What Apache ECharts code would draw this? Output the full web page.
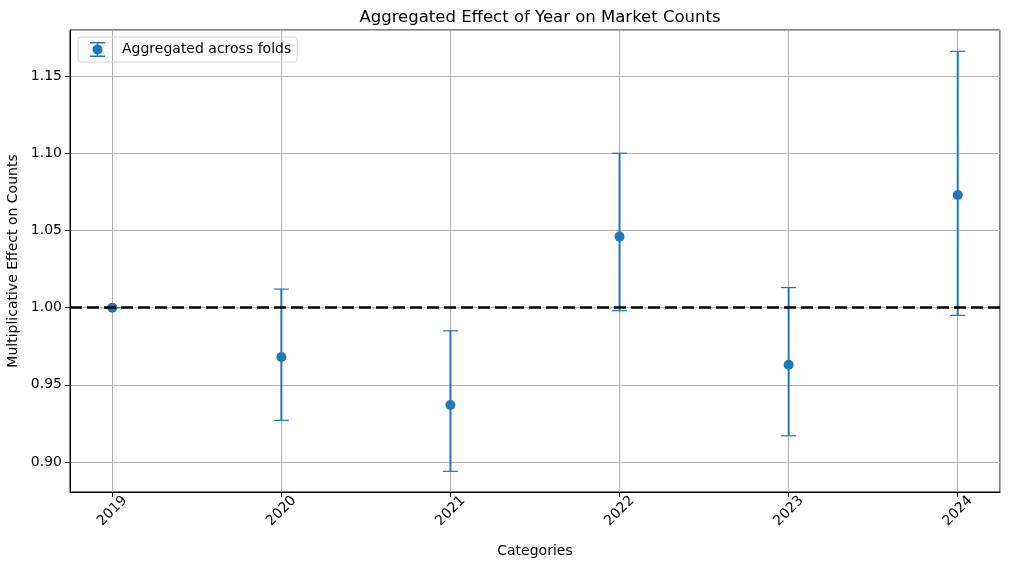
<!DOCTYPE html>
<html>
<head>
    <meta charset="utf-8">
    <title>Aggregated Effect of Year on Market Counts</title>
    <script src="https://cdn.jsdelivr.net/npm/echarts@6/dist/echarts.min.js"></script>
    <style>
        html, body { margin: 0; padding: 0; background: #fff; }
        #chart1 { width: 1010px; height: 566px; }
    </style>
</head>
<body>
<div id="chart1"></div>
<script type="text/javascript">
    // 数据: 年份及聚合效应 (点估计 + 区间)
    var categories = ['2019', '2020', '2021', '2022', '2023', '2024'];
    var effects = [1.000, 0.968, 0.937, 1.046, 0.963, 1.073];
    var lowers = [1.000, 0.927, 0.894, 0.998, 0.917, 0.995];
    var uppers = [1.000, 1.012, 0.985, 1.100, 1.013, 1.166];
    var refLine = 1.0;

    var blue = '#1f77b4';
    var font = 'DejaVu Sans';

    var pointData = effects.map(function (v, i) { return [i, v]; });
    var barData = effects.map(function (v, i) { return [i, lowers[i], uppers[i]]; });

    var myChart1 = echarts.init(document.getElementById('chart1'));

    myChart1.setOption({
        animation: false,
        backgroundColor: '#fff',
        title: {
            text: 'Aggregated Effect of Year on Market Counts',
            left: 535,
            textAlign: 'center',
            top: 4,
            textStyle: { fontFamily: font, fontSize: 16.5, fontWeight: 'normal', color: '#000' }
        },
        legend: {
            left: 78,
            top: 37,
            data: [{ name: 'Aggregated across folds', icon: 'path://M0,0h15v1.5h-15z M6.75,0h1.5v15h-1.5z M0,13.5h15v1.5h-15z M7.5,2.5a5,5 0 1,1 -0.01,0z' }],
            itemWidth: 15,
            itemHeight: 15,
            padding: [5, 6, 5, 12],
            borderColor: '#d5d5d5',
            borderWidth: 1,
            borderRadius: 3,
            textStyle: { fontFamily: font, fontSize: 14, color: '#000', padding: [0, 0, 0, 12] }
        },
        grid: {
            left: 70, right: 10, top: 30, bottom: 74,
            containLabel: false,
            outerBoundsMode: 'none',
            show: true, borderColor: '#000', borderWidth: 1
        },
        xAxis: {
            type: 'value',
            min: -0.25,
            max: 5.25,
            splitNumber: 5,
            name: 'Categories',
            nameLocation: 'middle',
            nameGap: 52,
            nameTextStyle: { fontFamily: font, fontSize: 14, color: '#000' },
            axisLine: { onZero: false, lineStyle: { color: '#000', width: 1 } },
            axisTick: { length: 5, lineStyle: { color: '#000' } },
            axisLabel: {
                showMinLabel: false,
                showMaxLabel: false,
                rotate: 45,
                align: 'center',
                verticalAlign: 'middle',
                margin: 19,
                fontFamily: font, fontSize: 14, color: '#000',
                formatter: function (v) {
                    return Number.isInteger(v) && categories[v] ? categories[v] : '';
                }
            },
            splitLine: { show: true, lineStyle: { color: '#b0b0b0', width: 1 } }
        },
        yAxis: {
            type: 'value',
            min: 0.8806,
            max: 1.1798,
            splitNumber: 6,
            name: 'Multiplicative Effect on Counts',
            nameLocation: 'middle',
            nameGap: 47,
            nameTextStyle: { fontFamily: font, fontSize: 14, color: '#000' },
            axisLine: { show: true, onZero: false, lineStyle: { color: '#000', width: 1 } },
            axisTick: { show: true, length: 5, lineStyle: { color: '#000' } },
            axisLabel: {
                showMinLabel: false,
                showMaxLabel: false,
                margin: 8,
                fontFamily: font, fontSize: 14, color: '#000',
                formatter: function (v) { return v.toFixed(2); }
            },
            splitLine: { show: true, lineStyle: { color: '#b0b0b0', width: 1 } }
        },
        series: [
            {
                name: 'Aggregated across folds',
                type: 'custom',
                data: barData,
                z: 3,
                renderItem: function (params, api) {
                    var x = api.value(0);
                    var lo = api.coord([x, api.value(1)]);
                    var hi = api.coord([x, api.value(2)]);
                    var hw = 7.5;
                    return {
                        type: 'group',
                        children: [
                            { type: 'line', shape: { x1: lo[0], y1: lo[1], x2: hi[0], y2: hi[1] }, style: { stroke: blue, lineWidth: 2 } },
                            { type: 'line', shape: { x1: lo[0] - hw, y1: lo[1], x2: lo[0] + hw, y2: lo[1] }, style: { stroke: blue, lineWidth: 1.2 } },
                            { type: 'line', shape: { x1: hi[0] - hw, y1: hi[1], x2: hi[0] + hw, y2: hi[1] }, style: { stroke: blue, lineWidth: 1.2 } }
                        ]
                    };
                },
                itemStyle: { color: blue },
                markLine: {
                    silent: true,
                    symbol: 'none',
                    label: { show: false },
                    lineStyle: { color: '#000', width: 2.5, type: [12, 5] },
                    data: [{ yAxis: refLine }]
                }
            },
            {
                name: 'Aggregated across folds',
                type: 'scatter',
                data: pointData,
                symbol: 'circle',
                symbolSize: 10,
                z: 4,
                itemStyle: { color: blue, opacity: 1 }
            }
        ]
    });
</script>
</body>
</html>
